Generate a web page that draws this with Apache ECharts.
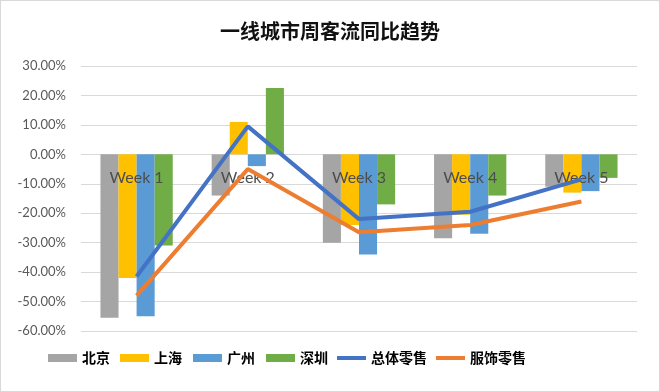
<!DOCTYPE html>
<html>
<head>
<meta charset="utf-8">
<script src="https://cdn.jsdelivr.net/npm/echarts@6/dist/echarts.min.js"></script>
<style>
html,body{margin:0;padding:0;background:#fff;}
#c{width:658px;height:390px;border:1px solid #d9d9d9;}
</style>
</head>
<body>
<div id="c"></div>
<script>
const categories = ['Week 1', 'Week 2', 'Week 3', 'Week 4', 'Week 5'];
const beijing   = [-0.555, -0.14, -0.30, -0.285, -0.11];
const shanghai  = [-0.42, 0.11, -0.24, -0.205, -0.13];
const guangzhou = [-0.55, -0.04, -0.34, -0.27, -0.125];
const shenzhen  = [-0.31, 0.225, -0.17, -0.14, -0.08];
const totalRetail   = [-0.415, 0.095, -0.22, -0.195, -0.085];
const apparelRetail = [-0.48, -0.05, -0.265, -0.24, -0.16];
const seriesNames = ['北京', '上海', '广州', '深圳', '总体零售', '服饰零售'];

const chart = echarts.init(document.getElementById('c'));
const barColors = ['#A5A5A5', '#FFC000', '#5B9BD5', '#70AD47'];
const barData = [beijing, shanghai, guangzhou, shenzhen];
const series = barData.map((d, i) => ({
  name: seriesNames[i], type: 'bar', data: d, z: 1,
  barGap: '0%', barCategoryGap: '35%',
  itemStyle: { color: barColors[i] }
}));
series.push({
  name: seriesNames[4], type: 'line', data: totalRetail, z: 3,
  symbol: 'none', lineStyle: { width: 4, color: '#4472C4' }, itemStyle: { color: '#4472C4' }
});
series.push({
  name: seriesNames[5], type: 'line', data: apparelRetail, z: 3,
  symbol: 'none', lineStyle: { width: 4, color: '#ED7D31' }, itemStyle: { color: '#ED7D31' }
});

const legendLefts = [47, 119, 192, 265, 336, 435];
const legends = seriesNames.map((n, i) => ({
  data: [{ name: n, icon: 'rect' }], left: legendLefts[i], top: 350, padding: 0,
  itemWidth: 29, itemHeight: i < 4 ? 8 : 4,
  textStyle: { fontFamily: 'Noto Sans CJK SC', fontSize: 14, fontWeight: 'bold', color: '#000' }
}));

chart.setOption({
  animation: false,
  title: {
    text: '一线城市周客流同比趋势', left: 'center', top: 15,
    textStyle: { fontFamily: 'Noto Sans CJK SC', fontSize: 20, fontWeight: 'bold', color: '#111' }
  },
  legend: legends,
  grid: { left: 80, right: 22, top: 65, bottom: 60 },
  xAxis: {
    type: 'category', data: categories, z: 2,
    position: 'bottom', offset: -177,
    axisLine: { show: false, onZero: false },
    axisTick: { show: false },
    axisLabel: { margin: 16, fontFamily: 'Lato', fontSize: 16, color: '#4d4d4d' }
  },
  yAxis: {
    type: 'value', min: -0.6, max: 0.3, interval: 0.1,
    axisLine: { show: false }, axisTick: { show: false },
    splitLine: { lineStyle: { color: '#d9d9d9', width: 1 } },
    axisLabel: {
      margin: 15, fontFamily: 'Lato', fontSize: 13, color: '#595959',
      formatter: v => (v * 100).toFixed(2) + '%'
    }
  },
  series: series
});
</script>
</body>
</html>
